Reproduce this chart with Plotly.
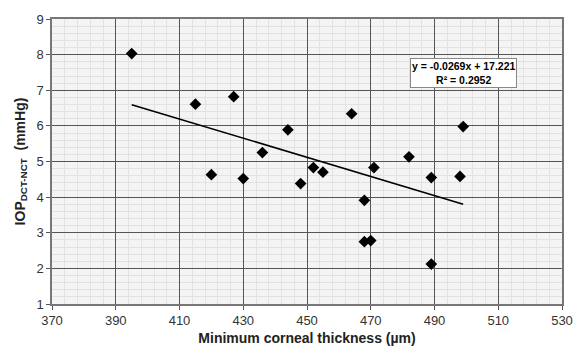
import plotly.graph_objects as go

thickness = [395, 415, 427, 444, 436, 420, 430, 448, 452, 455, 464, 499, 482, 471, 489, 498, 468, 468, 470, 489]
iop_diff = [8.03, 6.61, 6.82, 5.89, 5.25, 4.63, 4.52, 4.38, 4.83, 4.70, 6.34, 5.98, 5.13, 4.83, 4.55, 4.58, 3.91, 2.75, 2.78, 2.12]
slope = -0.0269
intercept = 17.221
r_squared = 0.2952

x_min, x_max = min(thickness), max(thickness)
trend_x = [x_min, x_max]
trend_y = [slope * v + intercept for v in trend_x]

fig = go.Figure()
fig.add_trace(go.Scatter(
    x=thickness, y=iop_diff, mode="markers",
    marker=dict(symbol="diamond", color="black", size=9, line=dict(width=0)),
    showlegend=False, hoverinfo="skip"))
fig.add_trace(go.Scatter(
    x=trend_x, y=trend_y, mode="lines",
    line=dict(color="black", width=1.6),
    showlegend=False, hoverinfo="skip"))

fig.add_annotation(
    x=499, y=7.48, xref="x", yref="y",
    text=f"y = {slope}x + {intercept}<br>R² = {r_squared}",
    showarrow=False, align="center",
    font=dict(family="Arial, Liberation Sans", size=10.5, color="black", weight="bold"),
    bgcolor="white", bordercolor="#888888", borderwidth=1, borderpad=1)

fig.update_layout(
    width=585, height=356,
    margin=dict(l=52, r=12, t=14, b=52),
    paper_bgcolor="white", plot_bgcolor="#f4f4f4",
    font=dict(family="Arial, Liberation Sans", color="#333333"),
    xaxis=dict(
        range=[370, 530], tickvals=list(range(370, 531, 20)),
        showgrid=True, gridcolor="#555555", gridwidth=1,
        minor=dict(dtick=4, tick0=370, showgrid=True, gridcolor="#e2e2e2", gridwidth=1),
        ticks="outside", ticklen=4, tickcolor="#555555",
        showline=True, linecolor="#777777", linewidth=1.5, mirror=True,
        zeroline=False, tickfont=dict(size=13, color="#333333"),
        title=dict(text="Minimum corneal thickness (µm)", standoff=6,
                   font=dict(size=14, color="#222222", weight="bold"))),
    yaxis=dict(
        range=[1, 9], tickvals=list(range(1, 10)),
        showgrid=True, gridcolor="#555555", gridwidth=1,
        minor=dict(dtick=0.2, tick0=1, showgrid=True, gridcolor="#e2e2e2", gridwidth=1),
        ticks="outside", ticklen=4, tickcolor="#555555",
        showline=True, linecolor="#777777", linewidth=1.5, mirror=True,
        zeroline=False, tickfont=dict(size=13, color="#333333"),
        title=dict(text="IOP<sub>DCT-NCT</sub>  (mmHg)", standoff=8,
                   font=dict(size=14, color="#222222", weight="bold"))),
)

fig.write_html("out.html")
